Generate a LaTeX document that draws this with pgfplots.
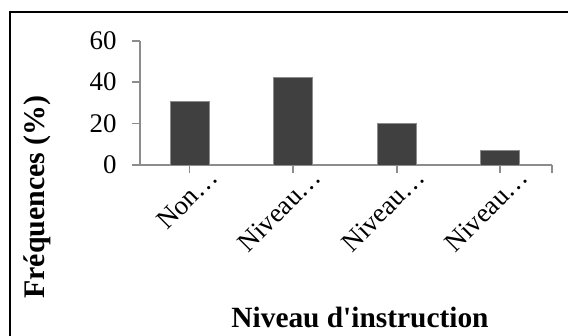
\documentclass[border=0pt]{standalone}
\usepackage{pgfplots}
\pgfplotsset{compat=1.18}
\usepackage{fontspec}
\setmainfont{Liberation Serif}
\definecolor{barfill}{HTML}{404040}
\definecolor{axisgray}{HTML}{8C8C8C}
\begin{document}
\begin{tikzpicture}[x=1bp,y=1bp]
\useasboundingbox (0,0) rectangle (568,335);
\fill[white] (0,0) rectangle (568,335);
% outer frame (top and left sides)
\draw[black, line width=2.6bp] (10,-20) -- (10,323) -- (600,323);
\begin{axis}[
  at={(140bp,170bp)}, anchor=south west,
  scale only axis,
  width=412bp, height=124.3bp,
  xmin=-0.48, xmax=3.5,
  ymin=0, ymax=60,
  ytick={0,20,40,60},
  xtick={0,1,2,3},
  extra x ticks={3.5},
  extra x tick labels={},
  xticklabels={Non…,Niveau…,Niveau…,Niveau…},
  axis x line*=bottom,
  axis y line*=left,
  axis line style={axisgray, line width=1.6bp, -},
  tick style={axisgray, line width=1.6bp},
  major tick length=8bp,
  tick align=outside,
  /pgf/number format/assume math mode=true,
  yticklabel style={font=\fontsize{27}{27}\selectfont, text=black, xshift=-12bp},
  xticklabel style={font=\fontsize{27}{27}\selectfont, text=black, rotate=45, anchor=north east, xshift=20bp, yshift=-4bp},
  ylabel={\textbf{Fréquences (\%)}},
  xlabel={\textbf{Niveau d\textquotesingle instruction}},
  ylabel style={font=\fontsize{30}{30}\selectfont, at={(axis description cs:-0.25,-0.257)}, anchor=center, rotate=0},
  xlabel style={font=\fontsize{29.5}{29.5}\selectfont, at={(axis description cs:0.534,-1.311)}, anchor=base},
  ybar,
  bar width=0.38,
  clip=false,
]
\addplot[fill=barfill, draw=axisgray, line width=1bp] coordinates {(0,30.5) (1,42) (2,20) (3,7)};
\end{axis}
\end{tikzpicture}
\end{document}
